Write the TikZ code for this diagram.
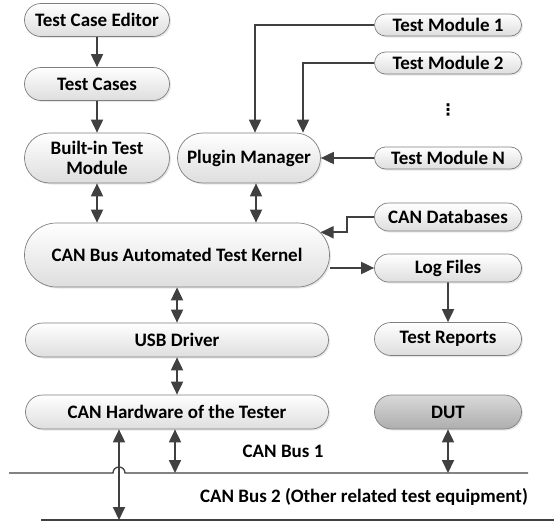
\documentclass[tikz,border=0pt]{standalone}
\usepackage{fontspec}
\setmainfont{Carlito}
\newfontfamily\symfont{DejaVu Sans}
\usetikzlibrary{calc,arrows.meta,shapes.misc,shadows}
\definecolor{ArrowGray}{HTML}{404040}
\definecolor{EdgeGray}{HTML}{7F7F7F}

\begin{document}
\begin{tikzpicture}[
    x=1pt, y=-1pt,
    every node/.style={font=\fontsize{19}{20}\selectfont\bfseries},
    >={Triangle[length=13pt,width=12pt]},
    unit/.style = {rounded rectangle, draw=EdgeGray, line width=0.7pt,
                   top color=white, bottom color=black!13, inner sep=0pt,
                   drop shadow={opacity=0.18, shadow xshift=1.5pt, shadow yshift=-1.5pt}},
    dutunit/.style = {unit, top color=black!15, bottom color=black!32},
    link/.style   = {ArrowGray, line width=1.8pt, ->},
    duplex/.style = {ArrowGray, line width=1.8pt, <->},
    bus/.style    = {ArrowGray, line width=1.3pt},
  ]
\useasboundingbox (0,0) rectangle (554,522);

% left column
\node[unit, minimum width=145, minimum height=33] (editor) at (97,20) {Test Case Editor};
\node[unit, minimum width=145, minimum height=33] (cases) at (97,84) {Test Cases};
\node[unit, minimum width=145, minimum height=50, align=center] (builtin) at (97,158) {Built-in Test\\Module};
\node[unit, minimum width=143, minimum height=50] (plugin) at (249,158) {Plugin Manager};

% test modules
\node[unit, minimum width=147, minimum height=22] (tm1) at (448,25) {Test Module 1};
\node[unit, minimum width=147, minimum height=22] (tm2) at (448,63) {Test Module 2};
\node (dots) at (448,110) {\symfont\fontsize{16}{16}\selectfont ⋮};
\node[unit, minimum width=147, minimum height=22] (tmN) at (448,158) {Test Module N};

% kernel and drivers
\node[unit, minimum width=305, minimum height=64] (kernel) at (177,255) {CAN Bus Automated Test Kernel};
\node[unit, minimum width=303, minimum height=34] (usb) at (177,340) {USB Driver};
\node[unit, minimum width=303, minimum height=34] (hw) at (177,412) {CAN Hardware of the Tester};

% right column
\node[unit, minimum width=147, minimum height=28] (candb) at (448,217) {CAN Databases};
\node[unit, minimum width=147, minimum height=28] (log) at (448,268) {Log Files};
\node[unit, minimum width=147, minimum height=33] (reports) at (448,339) {Test Reports};
\node[dutunit, minimum width=147, minimum height=34] (dut) at (448,412) {DUT};

% bus coordinates
\coordinate (b1L) at (9,473);
\coordinate (b1R) at (528,473);
\coordinate (b2L) at (41,520);
\coordinate (b2R) at (554,520);

\coordinate (pm s) at ([xshift=7pt]plugin.south);
\coordinate (pm n) at ([xshift=6pt]plugin.north);
\coordinate (pm ne) at ([xshift=54pt]plugin.north);
\coordinate (hw a) at ([xshift=-58pt]hw.south);
\coordinate (hw b) at ([xshift=-2pt]hw.south);

% buses
\draw[bus] (b1L) -- (113,473) arc[start angle=180, end angle=0, radius=6pt] -- (b1R);
\draw[bus] (b2L) -- (b2R);
\node (bus1) at (283,451) {CAN Bus 1};
\node (bus2) at (364,497) {CAN Bus 2 (Other related test equipment)};

% connections
\draw[link] (editor) -- (cases);
\draw[link] (cases) -- (builtin);
\draw[duplex] (builtin.south) -- (builtin.south |- kernel.north);
\draw[duplex] (pm s) -- (pm s |- kernel.north);
\draw[link] (tm1.west) -| (pm n);
\draw[link] (tm2.west) -| (pm ne);
\draw[link] (tmN.west) -- (plugin.east);
\draw[link] (candb.west) -- ++(-27,0) |- (kernel.9);
\draw[link] (kernel.east |- log.west) -- (log.west);
\draw[link] (log) -- (reports);
\draw[duplex] (kernel) -- (usb);
\draw[duplex] (usb) -- (hw);
\draw[duplex] (hw a) -- (hw a |- b2L);
\draw[duplex] (hw b) -- (hw b |- b1L);
\draw[duplex] (dut.south) -- (dut.south |- b1L);

\end{tikzpicture}
\end{document}
